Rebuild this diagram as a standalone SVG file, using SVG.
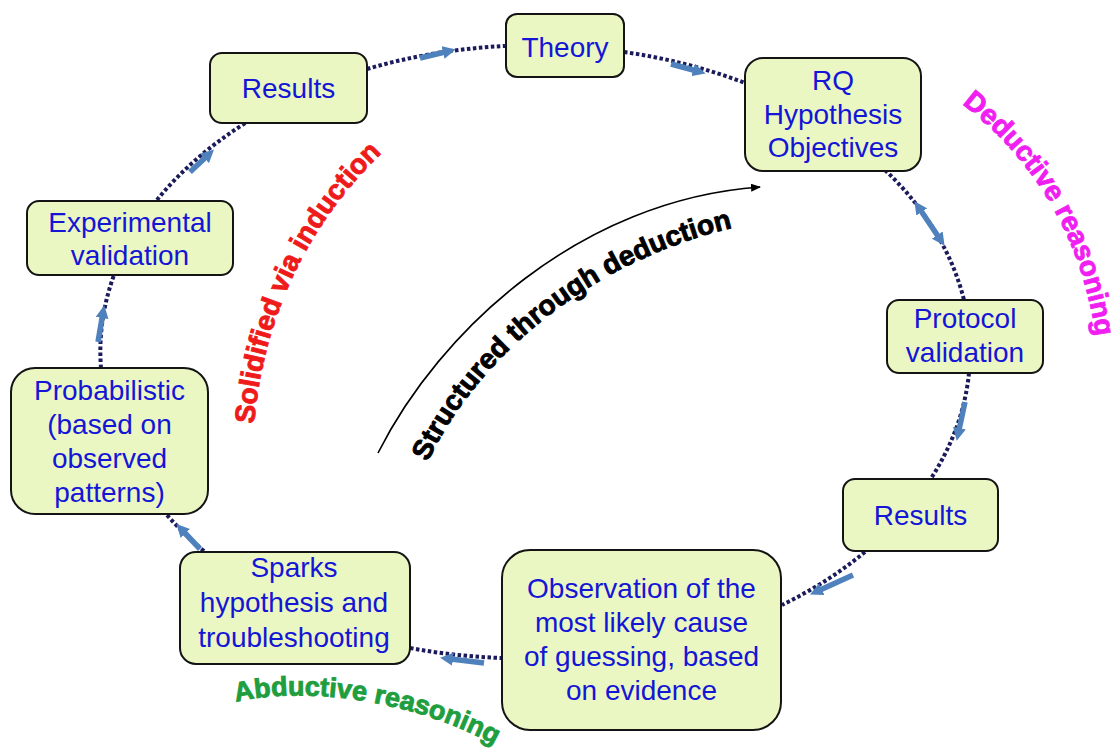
<svg xmlns="http://www.w3.org/2000/svg" width="1118" height="753" viewBox="0 0 1118 753">
  <style>
    .node rect { fill: #eaf7c3; stroke: #141414; stroke-width: 2; }
    .node text { font-family: "Liberation Sans", Arial, sans-serif; font-size: 28px; fill: #1515d5; text-anchor: middle; }
    .dots { fill: none; stroke: #1b1b5c; stroke-width: 4; stroke-dasharray: 3.5 2.5; }
    .flow { fill: none; stroke: #4f81bd; stroke-width: 5.5; marker-end: url(#blueHead); }
    .lbl { font-family: "Liberation Sans", Arial, sans-serif; font-weight: bold; stroke-width: 0.9; }
  </style>
  <defs>
    <marker id="blueHead" viewBox="0 0 13 13" markerUnits="userSpaceOnUse" markerWidth="13" markerHeight="13" refX="2" refY="6.5" orient="auto-start-reverse">
      <path d="M0,0 L13,6.5 L0,13 z" fill="#4f81bd"/>
    </marker>
    <marker id="blackHead" viewBox="0 0 10 8" markerUnits="userSpaceOnUse" markerWidth="10" markerHeight="8" refX="9" refY="4" orient="auto">
      <path d="M0,0 L10,4 L0,8 z" fill="#000"/>
    </marker>
    <path id="pSolid" d="M 254 424 C 262 330, 300 230, 385 150"/>
    <path id="pDeduct" d="M 962 104 C 1022 150, 1082 225, 1097 345"/>
    <path id="pAbduct" d="M 236 702 C 300 686, 420 698, 510 754"/>
    <path id="pStruct" d="M 428 462 C 470 370, 580 260, 745 225"/>
  </defs>
  <rect width="1118" height="753" fill="#ffffff"/>

  <g id="connectors">
    <path class="dots" d="M367 69 A435 307 0 0 1 505 46"/>
    <path class="dots" d="M624 52 A435 307 0 0 1 745 83"/>
    <path class="dots" d="M885 170 A435 307 0 0 1 964 300"/>
    <path class="dots" d="M969 373 A435 307 0 0 1 930 480"/>
    <path class="dots" d="M865 552 A435 307 0 0 1 782 605"/>
    <path class="dots" d="M503 658 A435 307 0 0 1 410 648"/>
    <path class="dots" d="M204 551 A435 307 0 0 1 166 514"/>
    <path class="dots" d="M101 368 A435 307 0 0 1 114 275"/>
    <path class="dots" d="M157 200 A435 307 0 0 1 247 122"/>

    <path class="flow" d="M420 58 L445 52"/>
    <path class="flow" d="M671 64 L695 70.5"/>
    <path class="flow" d="M920.6 210.3 L938.4 236.7" marker-start="url(#blueHead)"/>
    <path class="flow" d="M965 402 L959 430"/>
    <path class="flow" d="M853 575 L820 590"/>
    <path class="flow" d="M484 663 L451 659"/>
    <path class="flow" d="M200 549 L184 532"/>
    <path class="flow" d="M98 342 L102.4 316"/>
    <path class="flow" d="M190 172 L206 157"/>
  </g>

  <g id="deduction-arrow">
    <path d="M 378 453 C 440 330, 580 200, 760 187" fill="none" stroke="#000" stroke-width="1.6" marker-end="url(#blackHead)"/>
  </g>

  <g id="n_results_top" class="node">
    <rect x="210" y="53" width="157" height="70" rx="12"/>
    <text x="288.5" y="98">Results</text>
  </g>
  <g id="n_theory" class="node">
    <rect x="506" y="14" width="118" height="63" rx="11"/>
    <text x="565" y="57">Theory</text>
  </g>
  <g id="n_rq" class="node">
    <rect x="745" y="58" width="176" height="113" rx="18"/>
    <text x="833" y="90">RQ</text>
    <text x="833" y="123.5">Hypothesis</text>
    <text x="833" y="157">Objectives</text>
  </g>
  <g id="n_protocol" class="node">
    <rect x="887" y="300" width="156" height="73" rx="12"/>
    <text x="965" y="328">Protocol</text>
    <text x="965" y="362">validation</text>
  </g>
  <g id="n_results_right" class="node">
    <rect x="843" y="479" width="155" height="72" rx="12"/>
    <text x="920.5" y="525">Results</text>
  </g>
  <g id="n_observation" class="node">
    <rect x="502" y="550" width="279" height="180" rx="28"/>
    <text x="641.5" y="598">Observation of the</text>
    <text x="641.5" y="632">most likely cause</text>
    <text x="641.5" y="666">of guessing, based</text>
    <text x="641.5" y="700">on evidence</text>
  </g>
  <g id="n_sparks" class="node">
    <rect x="180" y="552" width="230" height="112" rx="16"/>
    <text x="294" y="577">Sparks</text>
    <text x="294" y="612">hypothesis and</text>
    <text x="294" y="647">troubleshooting</text>
  </g>
  <g id="n_probabilistic" class="node">
    <rect x="11" y="368" width="197" height="146" rx="24"/>
    <text x="109.5" y="400">Probabilistic</text>
    <text x="109.5" y="434">(based on</text>
    <text x="109.5" y="468">observed</text>
    <text x="109.5" y="502">patterns)</text>
  </g>
  <g id="n_experimental" class="node">
    <rect x="27" y="201" width="206" height="74" rx="12"/>
    <text x="130" y="232">Experimental</text>
    <text x="130" y="265">validation</text>
  </g>

  <g id="labels">
    <text class="lbl" font-size="28" fill="#ef1a1a" stroke="#ef1a1a"><textPath href="#pSolid">Solidified via induction</textPath></text>
    <text class="lbl" font-size="28" fill="#f01ef0" stroke="#f01ef0"><textPath href="#pDeduct">Deductive reasoning</textPath></text>
    <text class="lbl" font-size="27" fill="#1e9e3e" stroke="#1e9e3e"><textPath href="#pAbduct">Abductive reasoning</textPath></text>
    <text class="lbl" font-size="28" fill="#000000" stroke="#000000"><textPath href="#pStruct">Structured through deduction</textPath></text>
  </g>
</svg>
